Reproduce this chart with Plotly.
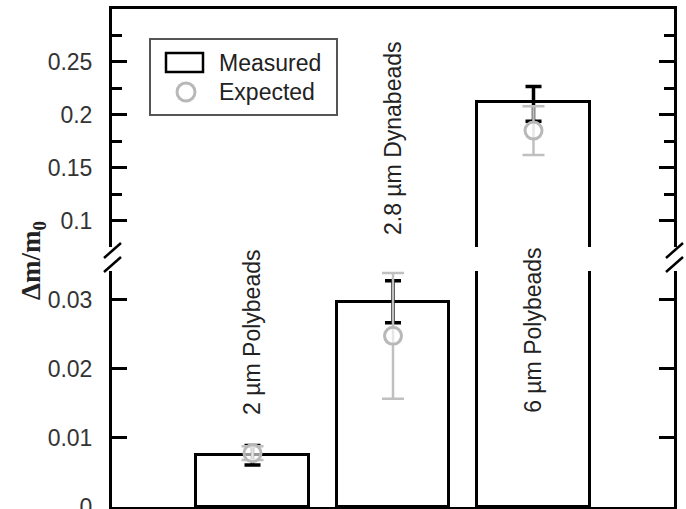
import plotly.graph_objects as go

# ---- data ----
categories = ["2 µm Polybeads", "2.8 µm Dynabeads", "6 µm Polybeads"]
measured = [0.0075, 0.0297, 0.2117]
measured_err_plus = [0.0014, 0.0031, 0.0150]
measured_err_minus = [0.0014, 0.0030, 0.0180]
expected = [0.0078, 0.0248, 0.1850]
expected_err = [0.0010, 0.0091, 0.0230]
lower_ticks = [0, 0.01, 0.02, 0.03]
lower_ticktext = ["0", "0.01", "0.02", "0.03"]
upper_ticks = [0.1, 0.15, 0.2, 0.25]
upper_ticktext = ["0.1", "0.15", "0.2", "0.25"]
upper_minor = [0.125, 0.175, 0.225, 0.275]
legend_names = ["Measured", "Expected"]

positions = list(range(1, len(categories) + 1))

W, H = 686, 509
L, R, T, B = 112, 12, 9, 2
PW, PH = W - L - R, H - T - B


def px(x):
    return (x - L) / PW


def py(y):
    return (H - B - y) / PH


FONT = "Liberation Sans, Arial, sans-serif"

fig = go.Figure()
for xa, ya in [("x", "y"), ("x2", "y2")]:
    fig.add_trace(go.Bar(
        x=positions, y=measured, width=0.8, xaxis=xa, yaxis=ya,
        marker=dict(color="white", line=dict(color="black", width=3)),
        error_y=dict(type="data", array=measured_err_plus, arrayminus=measured_err_minus,
                     color="black", thickness=3.5, width=8),
        showlegend=False, name=legend_names[0]))
    fig.add_trace(go.Scatter(
        x=positions, y=expected, mode="markers", xaxis=xa, yaxis=ya,
        marker=dict(symbol="circle", size=17, color="rgba(255,255,255,0.6)",
                    line=dict(color="#b8b8b8", width=3)),
        error_y=dict(type="data", array=expected_err, color="#c0c0c0", thickness=2.5, width=11),
        showlegend=False, name=legend_names[1]))

lower_top = (H - B - 271) / PH
upper_bot = (H - B - 247) / PH

axis_common = dict(showline=True, linecolor="black", linewidth=3, showgrid=False, zeroline=False)
fig.update_layout(
    width=W, height=H, margin=dict(l=L, r=R, t=T, b=B, autoexpand=False),
    paper_bgcolor="white", plot_bgcolor="white", showlegend=False, bargap=0,
    xaxis=dict(domain=[0, 1], range=[0, 4], anchor="y", showticklabels=False, ticks="", **axis_common),
    xaxis2=dict(domain=[0, 1], range=[0, 4], anchor="y2", side="top", showticklabels=False, ticks="", **axis_common),
    yaxis=dict(domain=[0, lower_top], range=[0, 0.0342], anchor="x", mirror="ticks",
               ticks="inside", ticklen=15, tickwidth=3, tickcolor="black",
               tickmode="array", tickvals=lower_ticks, ticktext=lower_ticktext,
               ticklabeloverflow="allow",
               tickfont=dict(family=FONT, size=23, color="#333"), ticklabelstandoff=12, **axis_common),
    yaxis2=dict(domain=[upper_bot, 1], range=[0.0752, 0.2997], anchor="x2", mirror="ticks",
                ticks="inside", ticklen=15, tickwidth=3, tickcolor="black",
                tickmode="array", tickvals=upper_ticks, ticktext=upper_ticktext,
                minor=dict(tickmode="array", tickvals=upper_minor, ticks="inside", ticklen=10,
                           tickwidth=3, tickcolor="black"),
                tickfont=dict(family=FONT, size=23, color="#333"), ticklabelstandoff=12, **axis_common),
)

ann_font = dict(family=FONT, size=23, color="#222")
annotations = [
    dict(x=positions[0], y=0.0253, xref="x", yref="y", text=categories[0], textangle=-90,
         showarrow=False, font=ann_font, xanchor="center", yanchor="middle"),
    dict(x=positions[1], y=0.178, xref="x2", yref="y2", text=categories[1], textangle=-90,
         showarrow=False, font=ann_font, xanchor="center", yanchor="middle"),
    dict(x=positions[2], y=0.0256, xref="x", yref="y", text=categories[2], textangle=-90,
         showarrow=False, font=ann_font, xanchor="center", yanchor="middle"),
    dict(x=px(33), y=py(261), xref="paper", yref="paper", text="<b>Δm/m<sub>0</sub></b>",
         textangle=-90, showarrow=False, xanchor="center", yanchor="middle",
         font=dict(family="Liberation Serif, Times New Roman, serif", size=27, color="#222")),
    dict(x=px(217), y=py(63), xref="paper", yref="paper", text=legend_names[0], xanchor="left",
         yanchor="middle", showarrow=False, font=ann_font),
    dict(x=px(217), y=py(92), xref="paper", yref="paper", text=legend_names[1], xanchor="left",
         yanchor="middle", showarrow=False, font=ann_font),
]

shapes = [
    # legend box
    dict(type="rect", xref="paper", yref="paper", x0=px(150), x1=px(337), y0=py(39), y1=py(115),
         line=dict(color="#555", width=2), fillcolor="white", layer="below"),
    dict(type="rect", xref="paper", yref="paper", x0=px(166), x1=px(203), y0=py(53), y1=py(72),
         line=dict(color="black", width=2.5), fillcolor="white"),
    dict(type="circle", xref="paper", yref="paper", x0=px(177), x1=px(195), y0=py(83), y1=py(101),
         line=dict(color="#b8b8b8", width=3)),
]
# axis break slashes
for ax_x in (112, 674):
    for dy in (0, 14):
        shapes.append(dict(type="line", xref="paper", yref="paper",
                           x0=px(ax_x - 8), y0=py(258 + dy), x1=px(ax_x + 9), y1=py(243 + dy),
                           line=dict(color="black", width=2.5)))

fig.update_layout(annotations=annotations, shapes=shapes)
fig.write_html("out.html", config={"displayModeBar": False},
               post_script="document.body.style.margin='0px';document.body.style.overflow='hidden';")
